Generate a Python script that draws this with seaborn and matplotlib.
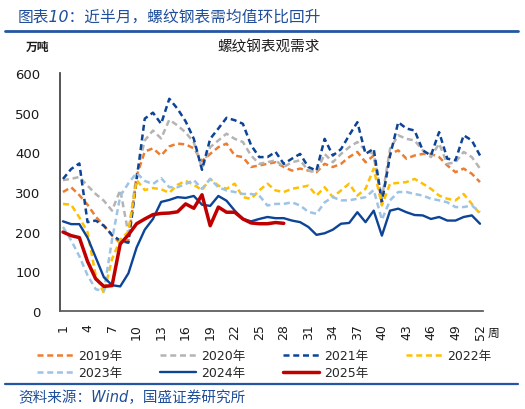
import numpy as np
import pandas as pd
import seaborn as sns
import matplotlib.pyplot as plt
from matplotlib.lines import Line2D

# --- data (万吨, weekly) ---
weeks = list(range(1, 53))
years = ["2019年", "2020年", "2021年", "2022年", "2023年", "2024年", "2025年"]

y2019 = [300, 312, 292, 268, 238, 215, 190, 172, 178, 340, 402, 410, 392, 415, 422, 420, 410, 378,
         396, 413, 422, 392, 388, 363, 367, 371, 375, 363, 354, 359, 354, 350, 371, 363, 371, 388,
         401, 375, 392, 274, 396, 405, 384, 392, 396, 396, 388, 367, 350, 359, 346, 325]
y2020 = [330, 333, 338, 316, 295, 278, 253, 305, 195, 345, 430, 455, 435, 482, 468, 450, 425, 360,
         413, 430, 447, 434, 426, 392, 371, 375, 380, 363, 375, 380, 354, 350, 396, 375, 396, 413,
         426, 405, 396, 283, 409, 443, 434, 430, 405, 388, 422, 371, 375, 401, 388, 359]
y2021 = [333, 358, 372, 224, 228, 215, 192, 177, 172, 330, 485, 500, 472, 535, 510, 478, 434, 356,
         434, 460, 487, 481, 472, 418, 388, 388, 401, 371, 384, 396, 363, 354, 434, 392, 408, 443,
         476, 396, 409, 274, 392, 476, 460, 455, 405, 392, 451, 384, 380, 443, 430, 392]
y2022 = [270, 268, 236, 199, 89, 45, 131, 180, 200, 330, 305, 310, 307, 298, 318, 328, 318, 305,
         333, 316, 308, 321, 287, 283, 304, 321, 304, 300, 308, 312, 316, 291, 312, 287, 304, 321,
         291, 308, 359, 266, 321, 323, 325, 333, 321, 308, 291, 283, 279, 295, 270, 245]
y2023 = [212, 178, 138, 90, 55, 50, 180, 290, 322, 348, 328, 320, 335, 312, 312, 320, 330, 308,
         333, 312, 304, 300, 295, 295, 291, 266, 270, 270, 274, 266, 250, 245, 274, 287, 279, 279,
         283, 287, 305, 230, 279, 300, 300, 295, 291, 283, 279, 274, 262, 262, 266, 249]
y2024 = [226, 219, 219, 185, 135, 85, 65, 62, 95, 160, 205, 232, 275, 280, 287, 285, 290, 268,
         265, 290, 278, 253, 232, 226, 232, 237, 234, 234, 228, 224, 212, 192, 196, 205, 220, 222,
         249, 224, 253, 190, 253, 258, 249, 242, 241, 232, 237, 228, 228, 237, 241, 220]
y2025 = [199, 190, 185, 125, 81, 62, 64, 169, 192, 220, 232, 243, 246, 247, 250, 270, 259, 293,
         215, 262, 249, 249, 232, 222, 220, 220, 223, 221]

series = [y2019, y2020, y2021, y2022, y2023, y2024, y2025]
colors = ["#ED7D31", "#B4B4B4", "#0D4496", "#FFC000", "#9DC3E6", "#0D4496", "#C00000"]
dashed = [True, True, True, True, True, False, False]
widths = [1.8, 1.8, 1.8, 1.8, 1.8, 1.7, 2.5]

x_ticks = list(range(1, 53, 3))

sns.set_theme(style="white")
plt.rcParams["font.family"] = ["DejaVu Sans", "Noto Sans CJK SC"]
plt.rcParams["axes.unicode_minus"] = False

fig = plt.figure(figsize=(5.25, 4.10), dpi=100)
ax = fig.add_axes([60 / 525, 1 - 312 / 410, 423 / 525, 238 / 410])

for name, vals, c, d, lw in zip(years, series, colors, dashed, widths):
    df = pd.DataFrame({"week": weeks[: len(vals)], "value": vals})
    sns.lineplot(data=df, x="week", y="value", ax=ax, color=c, lw=lw, label=name)
    if d:
        ax.lines[-1].set_dashes((2.4, 1.5))

ax.set_xlim(1 - 3 / 8.18, 52 + 3 / 8.18)
ax.set_ylim(0, 600)
ax.set_yticks(range(0, 601, 100))
ax.set_xticks(x_ticks)
ax.set_xticklabels([str(w) for w in x_ticks], rotation=90)
ax.set_xlabel("")
ax.set_ylabel("")
for s in ["top", "right"]:
    ax.spines[s].set_visible(False)
ax.spines["left"].set_color("#404040")
ax.spines["bottom"].set_color("#595959")
ax.tick_params(axis="y", direction="in", length=3, color="#404040", labelsize=9.5, pad=14,
               labelcolor="#1a1a1a")
ax.tick_params(axis="x", length=0, labelsize=9, pad=9, labelcolor="#1a1a1a")
ax.text(52.9, -0.09, "周", transform=ax.get_xaxis_transform(), fontsize=8.5,
        va="center", ha="left", color="#1a1a1a")

# legend (4 columns, row-major order like the source)
handles, labels = ax.get_legend_handles_labels()
order = [0, 4, 1, 5, 2, 6, 3]
ax.legend([handles[i] for i in order], [labels[i] for i in order], ncol=4,
          loc="upper left", bbox_to_anchor=(37 / 525, 1 - 350 / 410),
          bbox_transform=fig.transFigure, frameon=False, fontsize=9,
          handlelength=2.9, handletextpad=0.4, columnspacing=3.0,
          labelspacing=0.32, borderpad=0, borderaxespad=0)

# header / footer
fig.text(18 / 525, 1 - 17 / 410, "图表10：近半月，螺纹钢表需均值环比回升", fontsize=11.3,
         color="#1F4E9A", va="center", ha="left", style="italic")
fig.add_artist(Line2D([5 / 525, 518 / 525], [1 - 32 / 410] * 2, color="#2556A3", lw=2))
fig.text(26 / 525, 1 - 47 / 410, "万吨", fontsize=8.5, fontweight="bold",
         va="center", ha="left", color="#1a1a1a")
fig.text(269 / 525, 1 - 47 / 410, "螺纹钢表观需求", fontsize=10.5,
         va="center", ha="center", color="#1a1a1a")
fig.add_artist(Line2D([5 / 525, 518 / 525], [1 - 385 / 410] * 2, color="#2556A3", lw=1.6))
fig.text(18 / 525, 1 - 398 / 410, "资料来源：Wind，国盛证券研究所", fontsize=10.5,
         color="#1F4E9A", va="center", ha="left", style="italic")

fig.savefig("out.png", dpi=100)
